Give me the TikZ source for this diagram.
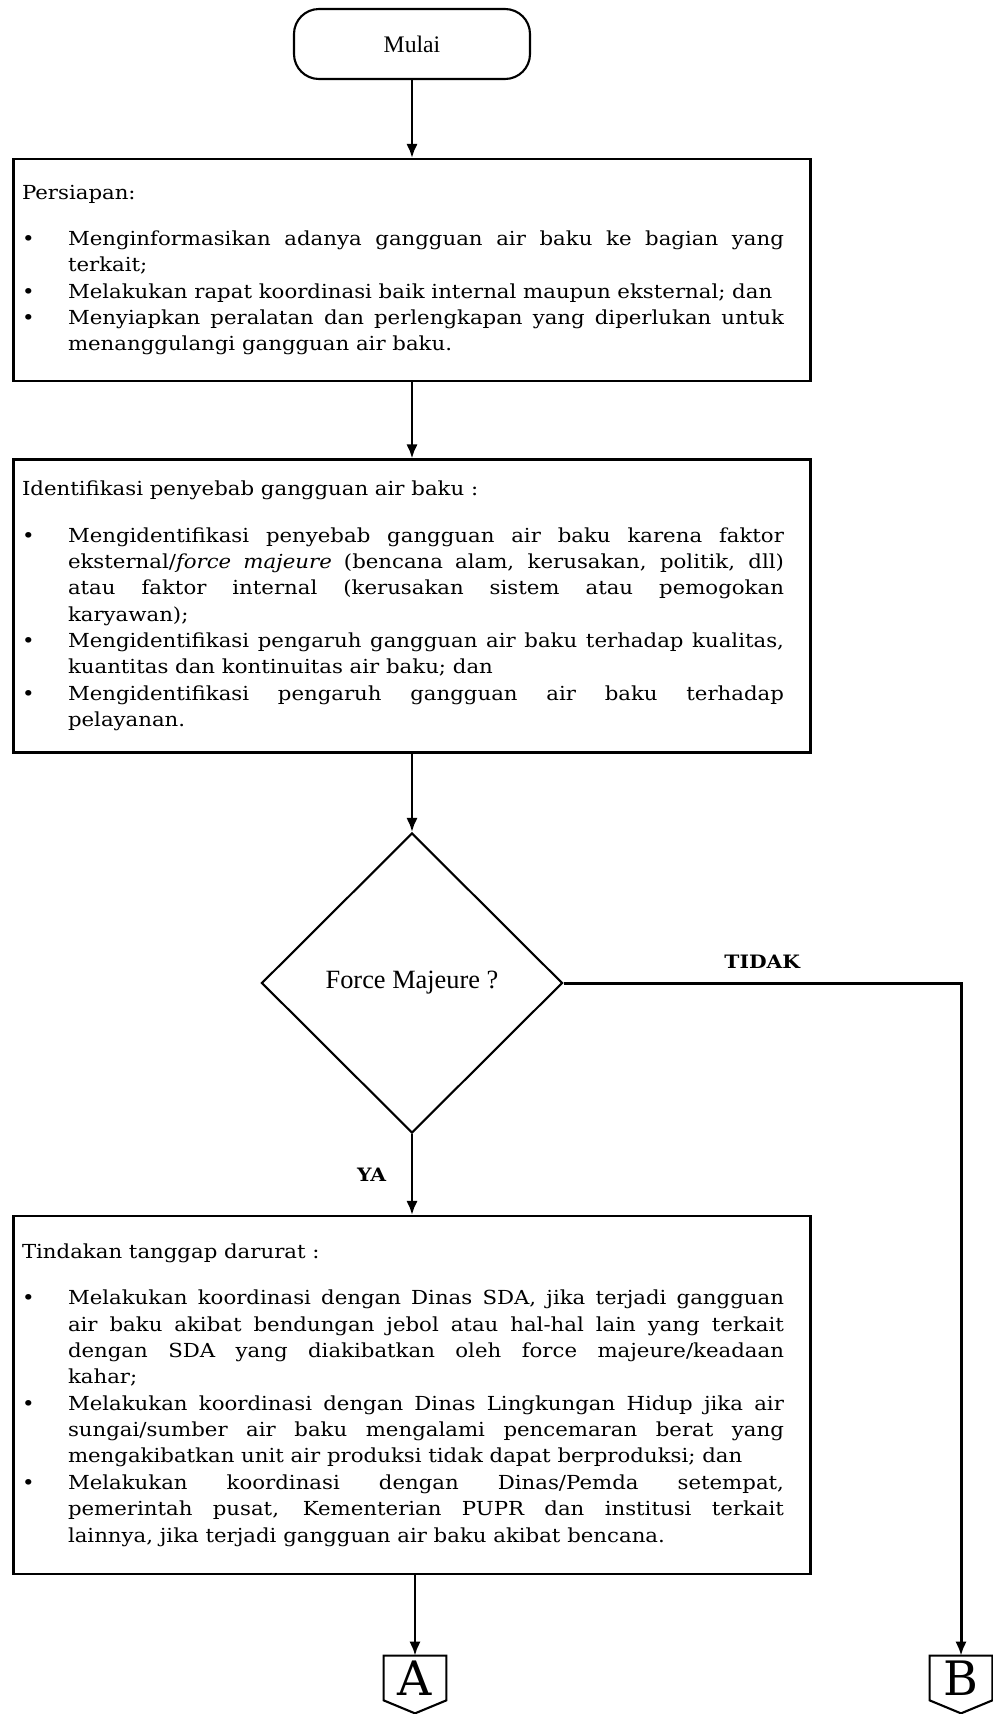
\documentclass[tikz,border=0pt]{standalone}
\usepackage{fontspec}
\setmainfont{DejaVu Serif}[FakeStretch=1.1]
\newfontfamily\judulfont{Liberation Serif}
\newfontfamily\hurufkonektor{DejaVu Serif}
\usetikzlibrary{shapes.geometric,arrows.meta}

\hyphenpenalty=10000
\exhyphenpenalty=10000

% daftar butir dengan titik
\newenvironment{butir}{%
  \begin{list}{\textbullet}{%
    \setlength{\leftmargin}{0.92cm}%
    \setlength{\labelwidth}{0.92cm}%
    \setlength{\labelsep}{0pt}%
    \setlength{\topsep}{0pt}%
    \setlength{\partopsep}{0pt}%
    \setlength{\itemsep}{0pt}%
    \setlength{\parsep}{0pt}%
    \renewcommand{\makelabel}[1]{##1\hfil}}}%
  {\end{list}}

% isi kotak: judul lalu daftar butir (sedikit digeser ke kiri)
\newcommand{\isikotak}[2]{%
  \begin{minipage}{15.24cm}
    \fontsize{11}{15}\selectfont
    #1\par\vspace{0.4cm}
    \begin{butir}#2\end{butir}
  \end{minipage}\kern0.36cm}

\tikzset{
  garis/.style={line width=1.2pt},
  mulaibox/.style={garis, draw, rounded corners=0.5cm, minimum width=4.72cm, minimum height=1.4cm,
    font=\judulfont\fontsize{13.5}{16}\selectfont},
  kotak/.style={garis, draw, inner sep=0pt, minimum width=15.94cm},
  belahketupat/.style={garis, draw, diamond, inner sep=0pt, minimum width=6.02cm, minimum height=6cm,
    font=\judulfont\fontsize{15}{18}\selectfont},
  panah/.style={line width=1.7pt, -{Latex[length=8pt,width=6.5pt]}},
  konektor/.style={minimum width=1.24cm, minimum height=0.88cm, inner sep=0pt,
    font=\hurufkonektor\fontsize{27}{27}\selectfont},
  cabang/.style={font=\bfseries\fontsize{10.5}{12}\selectfont}
}

\begin{document}
\begin{tikzpicture}
    \useasboundingbox (0,0) rectangle (19.86,-34.28);

    \node[mulaibox] (mulai) at (8.24,-0.88) {Mulai};

    \node[kotak, minimum height=4.44cm] (persiapan) at (8.24,-5.4) {\isikotak{Persiapan:}{%
        \item Menginformasikan adanya gangguan air baku ke bagian yang\linebreak terkait;
        \item Melakukan rapat koordinasi baik internal maupun eksternal; dan
        \item Menyiapkan peralatan dan perlengkapan yang diperlukan untuk\linebreak menanggulangi gangguan air baku.}};

    \node[kotak, minimum height=5.86cm] (identifikasi) at (8.24,-12.12) {\isikotak{Identifikasi penyebab gangguan air baku :}{%
        \item Mengidentifikasi penyebab gangguan air baku karena faktor\linebreak eksternal/\textit{force majeure} (bencana alam, kerusakan, politik, dll)\linebreak atau faktor internal (kerusakan sistem atau pemogokan\linebreak karyawan);
        \item Mengidentifikasi pengaruh gangguan air baku terhadap kualitas,\linebreak kuantitas dan kontinuitas air baku; dan
        \item Mengidentifikasi pengaruh gangguan air baku terhadap\linebreak pelayanan.}};

    \node[belahketupat] (forcemajeure) at (8.24,-19.66) {Force Majeure ?};

    \node[kotak, minimum height=7.16cm] (tanggap) at (8.24,-27.9) {\isikotak{Tindakan tanggap darurat :}{%
        \item Melakukan koordinasi dengan Dinas SDA, jika terjadi gangguan\linebreak air baku akibat bendungan jebol atau hal-hal lain yang terkait\linebreak dengan SDA yang diakibatkan oleh force majeure/keadaan\linebreak kahar;
        \item Melakukan koordinasi dengan Dinas Lingkungan Hidup jika air\linebreak sungai/sumber air baku mengalami pencemaran berat yang\linebreak mengakibatkan unit air produksi tidak dapat berproduksi; dan
        \item Melakukan koordinasi dengan Dinas/Pemda setempat,\linebreak pemerintah pusat, Kementerian PUPR dan institusi terkait\linebreak lainnya, jika terjadi gangguan air baku akibat bencana.}};

    % penghubung ke halaman berikut
    \node[konektor] (A) at (8.3,-33.56) {A};
    \node[konektor] (B) at (19.22,-33.56) {B};
    \foreach \k in {A,B}
        \draw[garis] (\k.north west) -- (\k.north east) -- (\k.south east)
            -- ([yshift=-0.26cm]\k.south) -- (\k.south west) -- cycle;

    \draw[panah] (mulai) -- (persiapan);
    \draw[panah] (persiapan) -- (identifikasi);
    \draw[panah] (identifikasi) -- (forcemajeure);
    \draw[panah] (forcemajeure) -- node[left=0.37cm, cabang] {YA} (tanggap);
    \draw[panah] (forcemajeure.east) -| node[pos=0.25, above=0.15cm, cabang] {TIDAK} (B.north);
    \draw[panah] (tanggap.south -| A.north) -- (A.north);
\end{tikzpicture}
\end{document}
